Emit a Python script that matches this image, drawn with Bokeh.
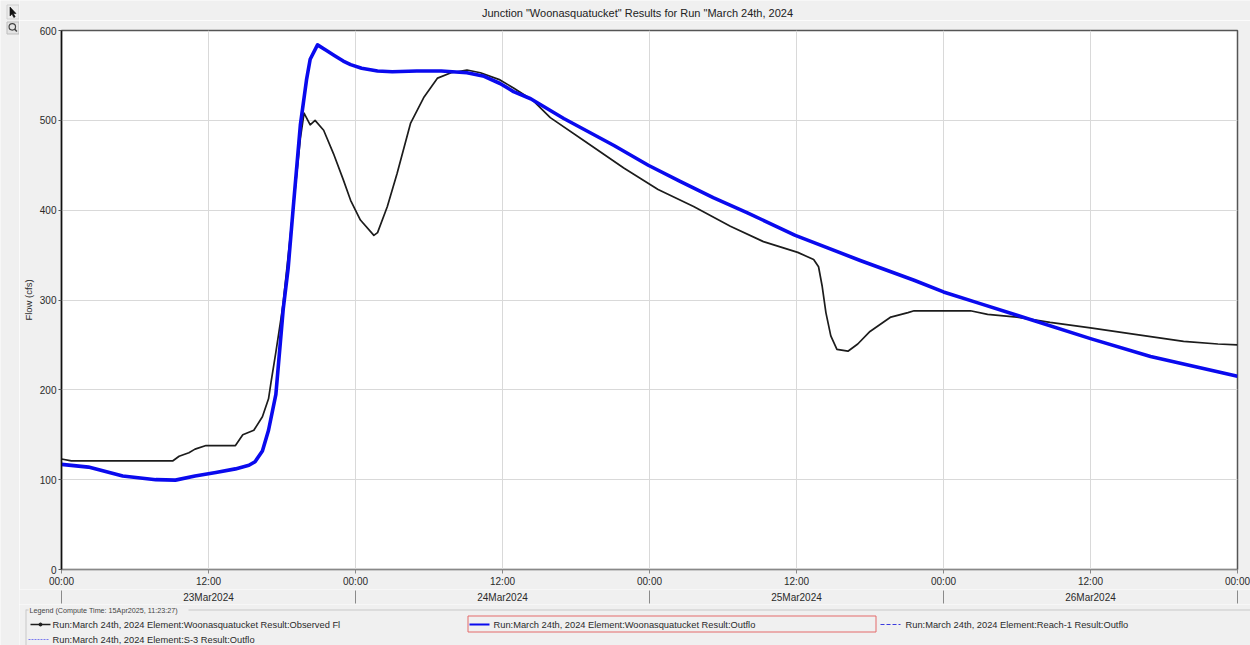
from bokeh.plotting import figure
from bokeh.layouts import column, row
from bokeh.models import Range1d
from bokeh.embed import file_html
from bokeh.resources import INLINE
from bokeh.core.properties import value

FONT = "Liberation Sans"
BG = "#f0f0f0"
TXT = "#2a2a2a"
W, H = 1250, 645
TOOLS_W = 19                  # width of the tool-icon column on the left
LEFT, RIGHT = 61, 13          # page x of the plot frame: LEFT .. W - RIGHT

TITLE = 'Junction "Woonasquatucket" Results for Run "March 24th, 2024'
COMPUTE_NOTE = "Legend (Compute Time: 15Apr2025, 11:23:27)"

# x axis: hours after 23Mar2024 00:00
tick_hours = [0, 12, 24, 36, 48, 60, 72, 84, 96]
tick_clock = ["00:00", "12:00", "00:00", "12:00", "00:00", "12:00", "00:00", "12:00", "00:00"]
day_labels = ["23Mar2024", "24Mar2024", "25Mar2024", "26Mar2024"]
flow_ticks = [0, 100, 200, 300, 400, 500, 600]

# Observed flow at the Woonasquatucket junction (cfs)
obs_hours = [0, 0.8, 9.1, 9.6, 10.4, 10.9, 11.8, 14.2, 14.8, 15.7, 16.4, 16.9,
             17.1, 17.5, 17.9, 18.1, 18.9, 19.5, 19.8, 20.3, 20.7, 21.4, 22.2,
             23.0, 23.6, 24.4, 25.5, 25.8, 26.6, 27.4, 28.5, 29.6, 30.7, 31.8,
             33.1, 34.2, 35.8, 36.9, 38.5, 39.9, 42.9, 45.9, 48.7, 51.6, 54.6,
             57.3, 60.1, 61.4, 61.8, 62.1, 62.4, 62.8, 63.3, 64.2, 65.0, 66.0,
             67.7, 69.1, 69.6, 74.2, 75.6, 78.0, 80.7, 84.0, 87.5, 91.6, 94.4, 96.0]
obs_flow = [123, 121, 121, 126, 130, 134, 138, 138, 150, 155, 170, 190,
            208, 242, 278, 297, 400, 480, 508, 495, 500, 489, 463,
            434, 411, 389, 372, 375, 404, 441, 497, 526, 547, 553,
            556, 553, 545, 536, 522, 503, 475, 447, 423, 404, 382,
            365, 353, 345, 337, 315, 286, 260, 245, 243, 251, 265,
            281, 286, 288, 288, 284, 281, 275, 269, 262, 254, 251, 250]

# Simulated junction outflow (cfs)
sim_hours = [0, 2.2, 5.0, 7.7, 9.3, 10.9, 12.6, 14.2, 15.3, 15.8, 16.4, 16.9,
             17.5, 18.1, 18.5, 18.9, 19.5, 20.0, 20.3, 20.9, 21.6, 22.3, 23.0,
             23.6, 24.5, 25.8, 27.0, 29.0, 31.0, 33.1, 34.5, 35.8, 36.9, 38.3,
             41.0, 45.1, 47.9, 50.5, 53.2, 56.0, 59.9, 65.2, 69.6, 72.0, 75.0,
             78.0, 84.0, 88.9, 96.0]
sim_flow = [117, 114, 104, 100, 99.5, 104, 108, 112, 116, 120, 132, 155,
            195, 290, 335, 400, 495, 545, 568, 584, 578, 572, 566,
            562, 558, 555, 554, 555, 555, 553, 549, 541, 532, 524,
            502, 472, 450, 432, 414, 397, 372, 344, 322, 309, 296,
            283, 257, 237, 215]

legend_entries = [
    "Run:March 24th, 2024 Element:Woonasquatucket Result:Observed Fl",
    "Run:March 24th, 2024 Element:Woonasquatucket Result:Outflo",
    "Run:March 24th, 2024 Element:Reach-1 Result:Outflo",
    "Run:March 24th, 2024 Element:S-3 Result:Outflo",
]


def panel(x0, x1, height):
    """A decoration panel whose data coordinates are page pixels (y grows downward)."""
    f = figure(width=x1 - x0, height=height, x_range=Range1d(x0, x1), y_range=Range1d(height, 0),
               toolbar_location=None, output_backend="svg", min_border=0,
               x_axis_location=None, y_axis_location=None, frame_align=False,
               background_fill_color=BG, border_fill_color=BG, outline_line_color=None)
    f.grid.visible = False
    return f


# ---------------- tool icons (pointer, zoom) ----------------
tools = panel(0, TOOLS_W, H)
tools.quad(left=[6.5], right=[18.5], top=[4.5], bottom=[18.5], fill_color="#ececec",
           line_color="#d0d0d0", line_width=1)
tools.patch(x=[9.5, 9.5, 11.5, 13.3, 14.7, 12.9, 15.5], y=[6.5, 15.5, 13.6, 17, 16.3, 13, 13],
            fill_color="#111111", line_color="#111111", line_width=0.6)
tools.quad(left=[6.5], right=[18.5], top=[21.5], bottom=[33.5], fill_color="#e4e4e4",
           line_color="#bdbdbd", line_width=1)
tools.scatter([11.8], [26.3], size=6.5, marker="circle", fill_color=None,
              line_color="#444444", line_width=1.2)
tools.segment(x0=[14.0], y0=[28.5], x1=[16.4], y1=[31], line_color="#444444", line_width=1.6)

# ---------------- header: title ----------------
head = panel(TOOLS_W, W, 20)
head.text(x=[637], y=[12], text=[TITLE], text_font=value(FONT), text_font_size="11px",
          text_align="center", text_baseline="middle", text_color="#222222")

# ---------------- main hydrograph ----------------
p = figure(width=W - TOOLS_W, height=569, x_range=Range1d(0, 96), y_range=Range1d(0, 600),
           toolbar_location=None, output_backend="svg",
           min_border_left=LEFT - TOOLS_W, min_border_right=RIGHT,
           min_border_top=10, min_border_bottom=18,
           background_fill_color="white", border_fill_color=BG,
           outline_line_color="#555555", outline_line_width=1.5)

p.xaxis.ticker = tick_hours
p.xaxis.major_label_overrides = dict(zip(tick_hours, tick_clock))
p.xaxis.major_label_text_font = FONT
p.xaxis.major_label_text_font_size = "10px"
p.xaxis.major_label_text_color = TXT
p.xaxis.major_label_standoff = 2
p.xaxis.major_tick_out = 4
p.xaxis.major_tick_in = 0
p.xaxis.minor_tick_out = 0
p.xaxis.minor_tick_in = 0
p.xaxis.major_tick_line_color = "#888888"
p.xaxis.axis_line_color = "#888888"

p.yaxis.ticker = flow_ticks
p.yaxis.axis_label = "Flow (cfs)"
p.yaxis.axis_label_text_font = FONT
p.yaxis.axis_label_text_font_size = "9.5px"
p.yaxis.axis_label_text_font_style = "normal"
p.yaxis.axis_label_text_color = TXT
p.yaxis.axis_label_standoff = 3
p.yaxis.major_label_text_font = FONT
p.yaxis.major_label_text_font_size = "10px"
p.yaxis.major_label_text_color = TXT
p.yaxis.major_label_standoff = 2
p.yaxis.major_tick_out = 3
p.yaxis.major_tick_in = 0
p.yaxis.minor_tick_out = 0
p.yaxis.minor_tick_in = 0
p.yaxis.axis_line_color = "#111111"
p.yaxis.axis_line_width = 1.5
p.yaxis.major_tick_line_color = "#555555"

p.grid.grid_line_color = "#d9d9d9"
p.grid.grid_line_width = 1

p.line(obs_hours, obs_flow, line_color="#1c1c1c", line_width=1.7, line_join="round")
p.line(sim_hours, sim_flow, line_color="#0a0aee", line_width=3.6, line_join="round")

# ---------------- date row under the time axis ----------------
hours_per_px = 96 / (W - LEFT - RIGHT)
dates = figure(width=W - TOOLS_W, height=15,
               x_range=Range1d(-(LEFT - TOOLS_W) * hours_per_px, 96 + RIGHT * hours_per_px),
               y_range=Range1d(15, 0), toolbar_location=None, output_backend="svg",
               min_border=0, x_axis_location=None, y_axis_location=None, frame_align=False,
               background_fill_color=BG, border_fill_color=BG, outline_line_color=None)
dates.grid.visible = False
midnights = tick_hours[::2]
noons = tick_hours[1::2]
dates.segment(x0=midnights, y0=[1] * len(midnights), x1=midnights, y1=[14] * len(midnights),
              line_color="#8a8a8a", line_width=1)
dates.text(x=noons, y=[8] * len(noons), text=day_labels, text_font=value(FONT),
           text_font_size="10px", text_align="center", text_baseline="middle", text_color=TXT)

# ---------------- legend ----------------
leg = panel(TOOLS_W, W, 41)
leg.line([25.5, 25.5], [5, 41], line_color="#c8c8c8", line_width=1)
leg.line([25.5, 28], [5.5, 5.5], line_color="#c8c8c8", line_width=1)
leg.line([188, W], [5.5, 5.5], line_color="#c8c8c8", line_width=1)
leg.text(x=[29], y=[5.5], text=[COMPUTE_NOTE], text_font=value(FONT), text_font_size="7.2px",
         text_align="left", text_baseline="middle", text_color="#444444")

leg.quad(left=[467.5], right=[875.5], top=[11.5], bottom=[27.5], fill_color=None,
         line_color="#e46a6a", line_width=1)
leg.line([30, 50], [20, 20], line_color="#1c1c1c", line_width=1.6)
leg.scatter([40], [20], size=3, marker="circle", color="#1c1c1c")
leg.line([469, 489], [20, 20], line_color="#0a0aee", line_width=2)
leg.line([880, 900], [20, 20], line_color="#3b3bde", line_width=1.2, line_dash="4 2")
leg.line([28, 48], [35, 35], line_color="#7b7bef", line_width=1.2, line_dash="2 1")

leg.text(x=[52, 493, 905, 52], y=[20, 20, 20, 35], text=legend_entries,
         text_font=value(FONT), text_font_size="9.3px", text_align="left",
         text_baseline="middle", text_color="#2a2a2a")

layout = row(tools, column(head, p, dates, leg, spacing=0), spacing=0)
open("out.html", "w").write(file_html(layout, INLINE))
